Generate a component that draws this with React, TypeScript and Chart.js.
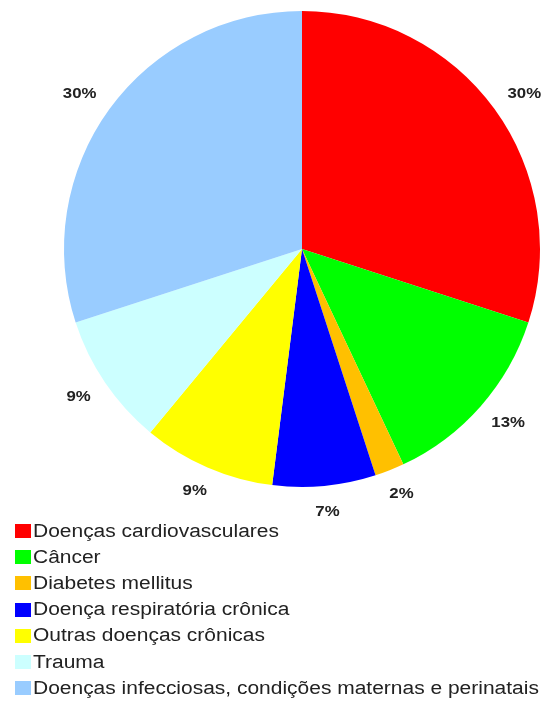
import React, { useEffect, useRef } from "react";
import { Chart, registerables } from "chart.js";

Chart.register(...registerables);

const categories = [
  "Doenças cardiovasculares",
  "Câncer",
  "Diabetes mellitus",
  "Doença respiratória crônica",
  "Outras doenças crônicas",
  "Trauma",
  "Doenças infecciosas, condições maternas e perinatais",
];
const values = [30, 13, 2, 7, 9, 9, 30];
const valueLabels = ["30%", "13%", "2%", "7%", "9%", "9%", "30%"];
const colors = ["#FF0000", "#00FF00", "#FFC000", "#0000FF", "#FFFF00", "#CCFFFF", "#99CCFF"];

const STRETCH = 1.2;

const labelPlugin = {
  id: "outerLabels",
  afterDatasetsDraw(chart: any) {
    const ctx = chart.ctx;
    const meta = chart.getDatasetMeta(0);
    ctx.save();
    ctx.font = "bold 14px 'Liberation Sans', Arial, sans-serif";
    ctx.fillStyle = "#222";
    ctx.textAlign = "center";
    ctx.textBaseline = "middle";
    meta.data.forEach((arc: any, i: number) => {
      const mid = (arc.startAngle + arc.endAngle) / 2;
      const r = arc.outerRadius + 20;
      const cx = arc.x + Math.cos(mid) * r;
      const cy = arc.y + Math.sin(mid) * r;
      const text = valueLabels[i];
      const w = ctx.measureText(text).width * STRETCH;
      const h = 12;
      const x = cx + Math.cos(mid) * w / 2;
      const y = cy + Math.sin(mid) * h / 2;
      ctx.save();
      ctx.translate(x, y);
      ctx.scale(STRETCH, 1);
      ctx.fillText(text, 0, 0);
      ctx.restore();
    });
    ctx.restore();
  },
};

export default function App() {
  const ref = useRef<HTMLCanvasElement>(null);
  useEffect(() => {
    if (!ref.current) return;
    const chart = new Chart(ref.current, {
      type: "pie",
      data: {
        labels: categories,
        datasets: [
          {
            data: values,
            backgroundColor: colors,
            borderWidth: 0,
          },
        ],
      },
      options: {
        animation: false,
        responsive: false,
        maintainAspectRatio: false,
        layout: { padding: { left: 64, right: 5, top: 11, bottom: 221 } },
        plugins: {
          legend: { display: false },
          tooltip: { enabled: false },
        },
      },
      plugins: [labelPlugin],
    });
    return () => chart.destroy();
  }, []);

  return (
    <div style={{ position: "fixed", left: 0, top: 0, width: 545, height: 708, background: "#fff" }}>
      <canvas ref={ref} width={545} height={708} style={{ position: "absolute", left: 0, top: 0 }} />
      <div style={{ position: "absolute", left: 15, top: 518, fontFamily: "'Liberation Sans', Arial, sans-serif", fontSize: 18, color: "#222" }}>
        {categories.map((c, i) => (
          <div key={c} style={{ display: "flex", alignItems: "center", height: 26.2, whiteSpace: "nowrap" }}>
            <span style={{ display: "inline-block", width: 16, height: 14, background: colors[i], marginRight: 2, flex: "none" }} />
            <span style={{ display: "inline-block", transform: "scaleX(1.165)", transformOrigin: "left center" }}>{c}</span>
          </div>
        ))}
      </div>
    </div>
  );
}
